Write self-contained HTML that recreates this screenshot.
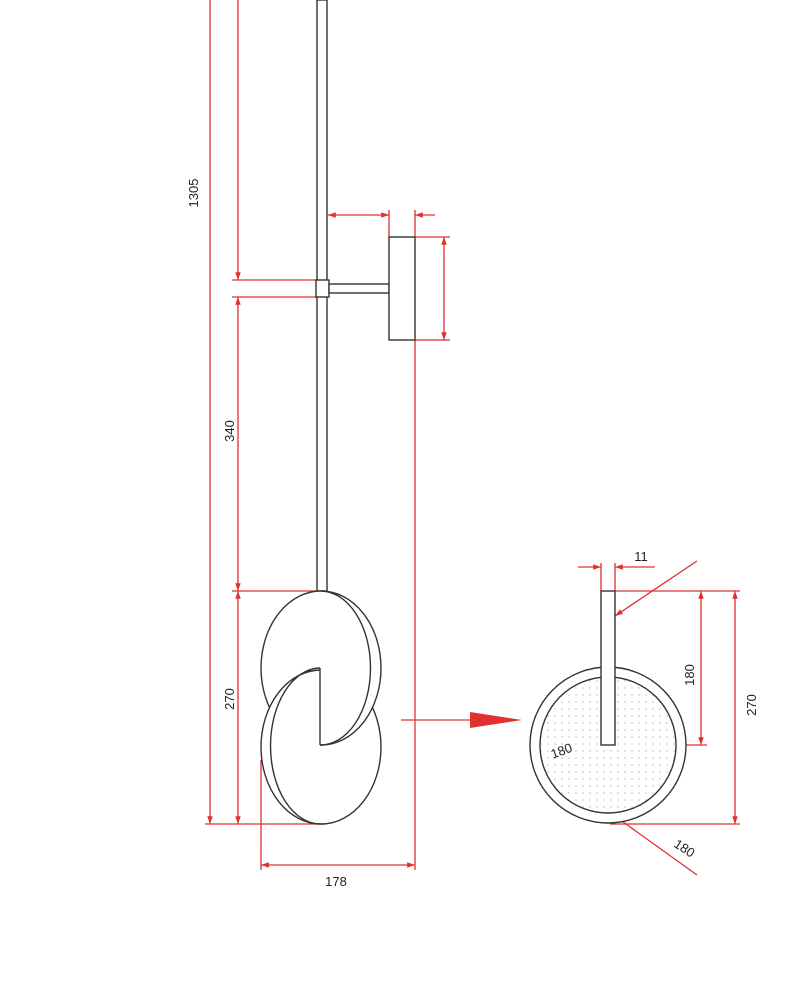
<!DOCTYPE html>
<html><head><style>html,body{margin:0;padding:0;background:#fff}svg{display:block}</style></head><body>
<svg width="803" height="1004" viewBox="0 0 803 1004" xmlns="http://www.w3.org/2000/svg" font-family="Liberation Sans, sans-serif">
<defs>
<marker id="a" viewBox="0 0 10 10" refX="10" refY="5" markerWidth="10" markerHeight="6" orient="auto-start-reverse"><path d="M0,1.5L10,5L0,8.5z" fill="#e03030"/></marker>
<pattern id="dots" width="7" height="7" patternUnits="userSpaceOnUse"><circle cx="2" cy="2" r="0.6" fill="#999"/></pattern>
<clipPath id="L"><rect x="0" y="0" width="320" height="1004"/></clipPath>
<clipPath id="R"><rect x="320" y="0" width="483" height="1004"/></clipPath>
</defs>
<g stroke="#e03030" stroke-width="1.3" fill="none">
<line x1="210" y1="0" x2="210" y2="824" marker-end="url(#a)"/>
<line x1="238" y1="0" x2="238" y2="280" marker-end="url(#a)"/>
<line x1="238" y1="297" x2="238" y2="591" marker-start="url(#a)" marker-end="url(#a)"/>
<line x1="238" y1="591" x2="238" y2="824" marker-start="url(#a)" marker-end="url(#a)"/>
<line x1="232" y1="280" x2="316" y2="280"/>
<line x1="232" y1="297" x2="316" y2="297"/>
<line x1="232" y1="591" x2="318" y2="591"/>
<line x1="205" y1="824" x2="325" y2="824"/>
<line x1="328" y1="215" x2="389" y2="215" marker-start="url(#a)" marker-end="url(#a)"/>
<line x1="415" y1="215" x2="435" y2="215" marker-start="url(#a)"/>
<line x1="389" y1="210" x2="389" y2="237"/>
<line x1="415" y1="210" x2="415" y2="237"/>
<line x1="415" y1="237" x2="450" y2="237"/>
<line x1="415" y1="340" x2="450" y2="340"/>
<line x1="444" y1="237" x2="444" y2="340" marker-start="url(#a)" marker-end="url(#a)"/>
<line x1="415" y1="340" x2="415" y2="870"/>
<line x1="261" y1="760" x2="261" y2="870"/>
<line x1="261" y1="865" x2="415" y2="865" marker-start="url(#a)" marker-end="url(#a)"/>
<line x1="401" y1="720" x2="470" y2="720"/>
<line x1="578" y1="567" x2="601" y2="567" marker-end="url(#a)"/>
<line x1="655" y1="567" x2="615" y2="567" marker-end="url(#a)"/>
<line x1="601" y1="563" x2="601" y2="591"/>
<line x1="615" y1="563" x2="615" y2="591"/>
<line x1="697" y1="561" x2="615" y2="616" marker-end="url(#a)"/>
<line x1="615" y1="591" x2="740" y2="591"/>
<line x1="615" y1="745" x2="707" y2="745"/>
<line x1="610" y1="824" x2="740" y2="824"/>
<line x1="701" y1="591" x2="701" y2="745" marker-start="url(#a)" marker-end="url(#a)"/>
<line x1="735" y1="591" x2="735" y2="824" marker-start="url(#a)" marker-end="url(#a)"/>
<line x1="592" y1="752" x2="535" y2="773" marker-end="url(#a)"/>
<line x1="697" y1="875" x2="612" y2="814" marker-end="url(#a)"/>
</g>
<path d="M470,712L522,720L470,728z" fill="#e03030"/>
<g stroke="#333" stroke-width="1.4" fill="none">
<rect x="317" y="0" width="10" height="591" fill="#fff"/>
<rect x="316" y="280" width="13" height="17" fill="#fff"/>
<rect x="329" y="284" width="60" height="9" fill="#fff"/>
<rect x="389" y="237" width="26" height="103" fill="#fff"/>
<ellipse cx="321" cy="668" rx="60" ry="77" fill="#fff" clip-path="url(#L)"/>
<ellipse cx="321" cy="747" rx="60" ry="77" fill="#fff"/>
<ellipse cx="321" cy="668" rx="60" ry="77" fill="#fff" clip-path="url(#R)"/>
<path d="M321,591 A50,77 0 0 1 320,745"/>
<path d="M320,668 A50,78 0 0 0 321,824"/>
<line x1="320" y1="668" x2="320" y2="745"/>
<circle cx="608" cy="745" r="78" fill="#fff"/>
<circle cx="608" cy="745" r="68" fill="url(#dots)"/>
<rect x="601" y="591" width="14" height="154" fill="#fff"/>
</g>
<g fill="#222" font-size="13">
<text transform="translate(198,193) rotate(-90)" text-anchor="middle">1305</text>
<text transform="translate(234,431) rotate(-90)" text-anchor="middle">340</text>
<text transform="translate(234,699) rotate(-90)" text-anchor="middle">270</text>
<text x="336" y="886" text-anchor="middle">178</text>
<text x="641" y="561" text-anchor="middle">11</text>
<text transform="translate(694,675) rotate(-90)" text-anchor="middle">180</text>
<text transform="translate(756,705) rotate(-90)" text-anchor="middle">270</text>
<text transform="translate(563,755) rotate(-20)" text-anchor="middle">180</text>
<text transform="translate(682,852) rotate(33)" text-anchor="middle">180</text>
</g>
</svg>
</body></html>
